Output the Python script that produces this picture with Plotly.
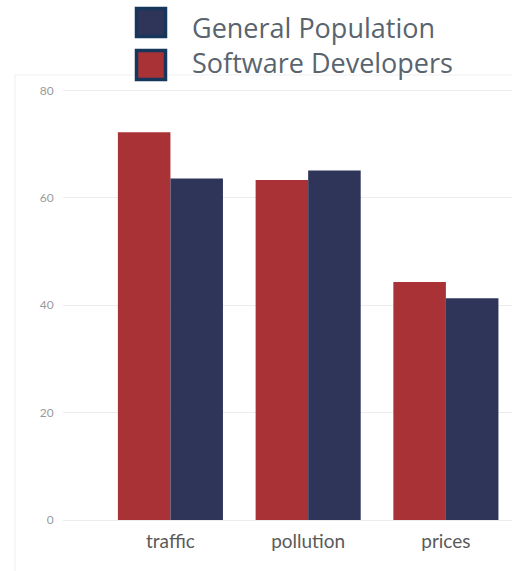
import plotly.graph_objects as go

# Survey data: share of respondents naming each issue
categories = ["traffic", "pollution", "prices"]
software_developers = [72.2, 63.3, 44.3]
general_population = [63.6, 65.1, 41.3]
y_ticks = [0, 20, 40, 60, 80]

RED = "#a83236"
NAVY = "#2f3558"
BORDER = "#16365c"

fig = go.Figure()
fig.add_trace(go.Bar(name="Software Developers", x=categories, y=software_developers,
                     marker=dict(color=RED, line=dict(width=0)), showlegend=False))
fig.add_trace(go.Bar(name="General Population", x=categories, y=general_population,
                     marker=dict(color=NAVY, line=dict(width=0)), showlegend=False))

# Plot area geometry (pixels) used for placing the custom legend
W, H = 512, 571
ML, MR, MT, MB = 63, 0, 85, 51
pw, ph = W - ML - MR, H - MT - MB


def px_x(px):
    return (px - ML) / pw


def px_y(py):
    return (H - MB - py) / ph


# Custom legend: swatches drawn as shapes, labels stacked in one text block
legend_items = [("General Population", NAVY, 7, 38),
                ("Software Developers", RED, 49, 81)]
shapes = []
for name, color, top, bottom in legend_items:
    shapes.append(dict(type="rect", xref="paper", yref="paper",
                       x0=px_x(136.5), x1=px_x(165.5), y0=px_y(bottom - 1.5), y1=px_y(top + 1.5),
                       fillcolor=color, line=dict(color=BORDER, width=3.5), layer="above"))

annotations = [dict(xref="paper", yref="paper", x=px_x(190), y=px_y(45),
                    xanchor="left", yanchor="middle", align="left", showarrow=False,
                    text="<br>".join(item[0] for item in legend_items),
                    font=dict(family="Open Sans", size=27, color="#59646e"))]

# faint frame around the figure
shapes.append(dict(type="rect", xref="paper", yref="paper",
                   x0=px_x(15), x1=px_x(530), y0=px_y(600), y1=px_y(75),
                   line=dict(color="#efefef", width=1), fillcolor="rgba(0,0,0,0)", layer="below"))

fig.update_layout(
    width=W, height=H,
    margin=dict(l=ML, r=MR, t=MT, b=MB, pad=0),
    paper_bgcolor="white", plot_bgcolor="white",
    barmode="group", bargap=0.237, bargroupgap=0,
    shapes=shapes, annotations=annotations,
    showlegend=False,
    xaxis=dict(range=[-0.78, 2.48], showgrid=False, zeroline=False, showline=False,
               ticks="outside", ticklen=4, tickcolor="rgba(0,0,0,0)",
               tickfont=dict(family="Lato", size=19, color="#5a5a5a")),
    yaxis=dict(range=[0, 81], tickvals=y_ticks, ticktext=[str(v) for v in y_ticks],
               showgrid=True, gridcolor="#ececec", gridwidth=1,
               zeroline=True, zerolinecolor="#ececec", zerolinewidth=1, showline=False,
               ticks="outside", ticklen=6, tickcolor="rgba(0,0,0,0)",
               tickfont=dict(family="Lato", size=12, color="#9a9a9a")),
)

fig.write_html("out.html")
